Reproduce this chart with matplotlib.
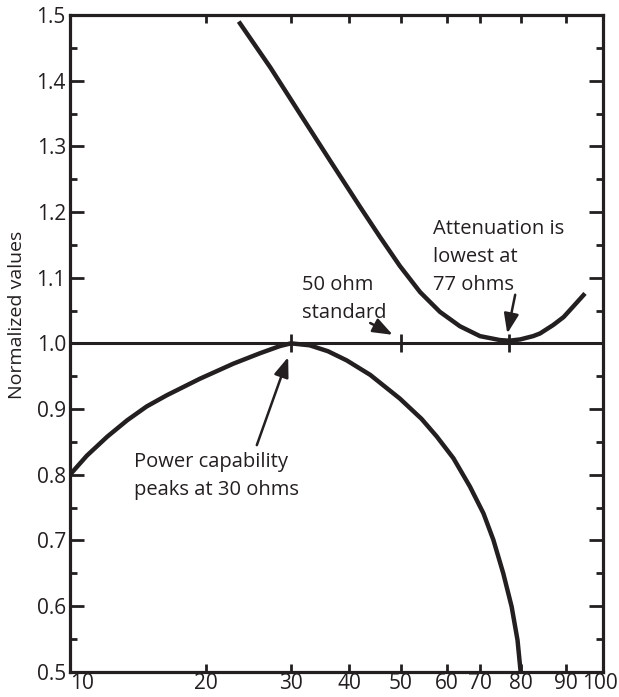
import numpy as np
import matplotlib
matplotlib.use("Agg")
import matplotlib.pyplot as plt
from matplotlib.transforms import ScaledTranslation

plt.rcParams['font.family'] = ['Open Sans', 'DejaVu Sans']

INK = '#231f20'

# impedance in ohms vs normalized value
atten_ohms = [23.4, 27.2, 31.4, 36.4, 41.9, 45.7, 49.8, 54.0, 58.4, 63.8, 70.0, 74.7, 77.0,
              79.8, 82.6, 84.1, 87.1, 89.5, 91.9, 95.0]
atten_vals = [1.490, 1.420, 1.349, 1.278, 1.208, 1.162, 1.118, 1.078, 1.048, 1.026, 1.011,
              1.005, 1.004, 1.006, 1.011, 1.015, 1.028, 1.040, 1.056, 1.076]

power_ohms = [10.0, 10.9, 12.1, 13.4, 14.8, 16.4, 19.4, 22.8, 25.9, 28.5, 30.0, 32.9, 36.0,
              39.5, 43.8, 49.8, 54.3, 57.7, 61.9, 66.8, 70.8, 73.1, 75.5, 77.6, 79.1, 79.9]
power_vals = [0.800, 0.829, 0.858, 0.883, 0.904, 0.921, 0.946, 0.969, 0.985, 0.996, 1.000,
              0.997, 0.988, 0.974, 0.952, 0.916, 0.885, 0.858, 0.825, 0.782, 0.741, 0.701,
              0.650, 0.599, 0.548, 0.500]

marked_ohms = [30, 50, 77]

x_ticks = [10, 20, 30, 40, 50, 60, 70, 80, 90, 100]
y_ticks = [0.5, 0.6, 0.7, 0.8, 0.9, 1.0, 1.1, 1.2, 1.3, 1.4, 1.5]

# the printed x axis is a hand-drawn, not quite logarithmic, scale:
# where each tick sits along the axis (0 = left, 1 = right)
tick_place = (np.array([70, 205.7, 291, 349.3, 400.7, 446.7, 480, 521, 565.7, 603.3]) - 70) / 533.3
log_ticks = np.log10(x_ticks)


def fwd(x):
    x = np.clip(np.asarray(x, float), 1e-3, None)
    return np.interp(np.log10(x), log_ticks, tick_place)


def inv(u):
    return 10 ** np.interp(np.asarray(u, float), tick_place, log_ticks)


fig = plt.figure(figsize=(6.19, 6.97), dpi=100)
ax = fig.add_axes([70 / 619, 1 - 671.7 / 697, 533.3 / 619, 656.7 / 697])
ax.set_xscale('function', functions=(fwd, inv))

ax.axhline(1.0, color=INK, lw=2.2, zorder=2)
ax.plot(atten_ohms, atten_vals, color=INK, lw=3.2, solid_capstyle='butt',
        solid_joinstyle='round', zorder=3)
ax.plot(power_ohms, power_vals, color=INK, lw=3.2, solid_capstyle='butt',
        solid_joinstyle='round', zorder=3)
ax.plot(marked_ohms, [1.0] * len(marked_ohms), ls='none', marker='|', ms=13, mew=2,
        color=INK, zorder=4)

ax.set_xlim(10, 100)
ax.set_ylim(0.5, 1.5)
ax.set_xticks(x_ticks)
ax.set_xticklabels([str(t) for t in x_ticks])
ax.xaxis.set_minor_locator(matplotlib.ticker.NullLocator())
ax.set_yticks(y_ticks)
ax.set_yticklabels([f'{t:.1f}' for t in y_ticks])
ax.set_yticks(np.arange(0.55, 1.5, 0.1), minor=True)

ax.tick_params(which='both', direction='in', top=True, right=True, color=INK,
               labelcolor=INK, labelsize=15, width=2)
ax.tick_params(axis='x', length=6, pad=1)
ax.tick_params(axis='y', which='major', length=10, pad=3)
ax.tick_params(axis='y', which='minor', length=5)
xlabels = ax.get_xticklabels()
xlabels[0].set_ha('left')
xlabels[-1].set_transform(xlabels[-1].get_transform() +
                          ScaledTranslation(-3 / 100, 0, fig.dpi_scale_trans))
for s in ax.spines.values():
    s.set_linewidth(2.3)
    s.set_color(INK)

ax.set_ylabel('Normalized values', fontsize=14, color=INK, va='center')
ax.yaxis.set_label_coords(-0.1, 0.543)

txt = dict(fontsize=14.5, color=INK, ha='left', va='baseline', linespacing=1.53)
ax.text(13.9, 0.769, 'Power capability\npeaks at 30 ohms', **txt)
ax.text(31.7, 1.038, '50 ohm\nstandard', **txt)
ax.text(56.8, 1.081, 'Attenuation is\nlowest at\n77 ohms', **txt)

arrow = dict(arrowstyle='-|>,head_length=1.2,head_width=0.45', color=INK, lw=1.8,
             shrinkA=0, shrinkB=0, mutation_scale=10)
ax.annotate('', xy=(29.6, 0.979), xytext=(25.5, 0.845), arrowprops=arrow)
ax.annotate('', xy=(48.3, 1.013), xytext=(43.8, 1.031), arrowprops=arrow)
ax.annotate('', xy=(76.5, 1.015), xytext=(78.5, 1.074), arrowprops=arrow)

fig.savefig('out.png', dpi=100)
